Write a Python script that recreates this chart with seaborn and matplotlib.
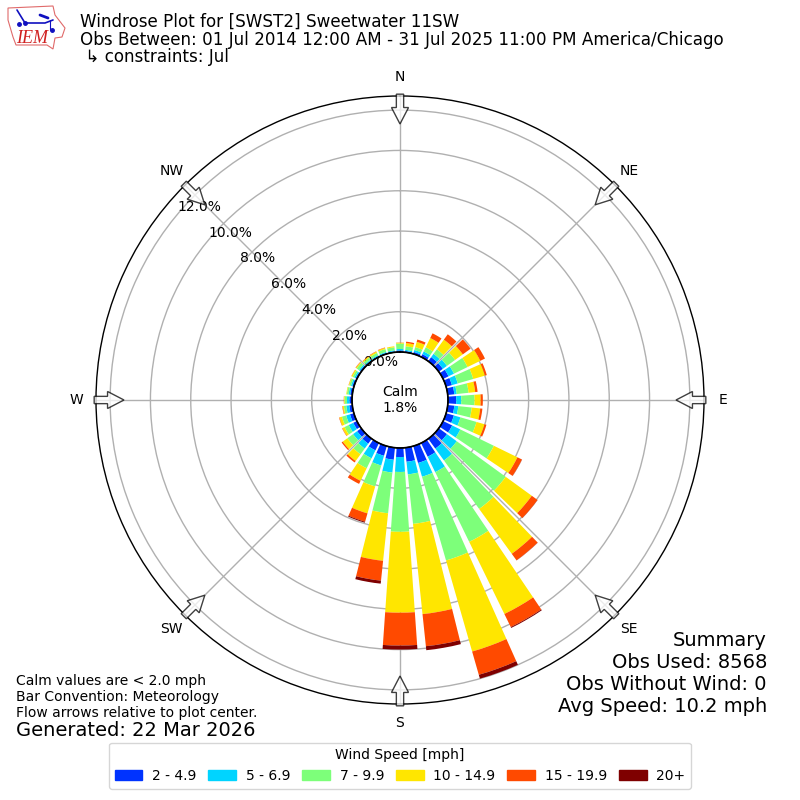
import numpy as np
import pandas as pd
import matplotlib
matplotlib.use("Agg")
import matplotlib.pyplot as plt
from matplotlib.patches import FancyArrow, Polygon
import seaborn as sns

# wind direction of each bar, degrees from north
directions = list(range(0, 360, 10))

# percent of observations per direction, one list per speed class
speed_2_5 = [.08, .06, .10, .15, .25, .25, .30, .30, .33, .41, .33, .40, .50, .50, .60, .75, .87, .70,
             .45, .60, .50, .40, .30, .25, .20, .20, .15, .13, .10, .08, .07, .07, .05, .05, .05, .05]
speed_5_7 = [.07, .06, .10, .15, .20, .25, .30, .30, .12, .25, .20, .34, .45, .60, .73, .85, .71, .63,
             .74, .64, .50, .44, .30, .25, .25, .20, .15, .12, .08, .07, .07, .07, .05, .05, .05, .05]
speed_7_10 = [.27, .18, .15, .23, .28, .50, .75, .80, .59, .66, .67, .83, 1.85, 3.00, 2.97, 3.85, 4.32, 2.47,
              2.97, 2.03, 1.08, .55, .35, .35, .23, .22, .12, .12, .09, .09, .10, .14, .12, .12, .15, .15]
speed_10_15 = [.04, .16, .27, .51, .59, .47, .70, .60, .33, .30, .42, .41, 1.30, 1.60, 2.75, 3.98, 4.70, 4.50,
               4.01, 2.37, 1.39, .69, .41, .28, .12, .13, .06, .03, .03, .03, .06, .05, .06, .07, .06, .05]
speed_15_20 = [.01, .07, .12, .26, .33, .48, .26, .10, .12, .11, .11, .10, .25, .35, .40, .72, 1.20, 1.60,
               1.63, .99, .43, .17, .09, .07, .02, .02, .02, .01, 0, .01, .01, .02, .02, .02, .02, 0]
speed_20 = [0, 0, 0, 0, 0, 0, 0, 0, 0, 0, 0, 0, .01, .01, .01, .05, .20, .20,
            .20, .15, .05, 0, 0, 0, 0, 0, 0, 0, 0, 0, 0, 0, 0, 0, 0, 0]

speed_labels = ["2 - 4.9", "5 - 6.9", "7 - 9.9", "10 - 14.9", "15 - 19.9", "20+"]
speed_colors = ["#0033ff", "#00d4ff", "#7dff7a", "#ffe600", "#ff4a00", "#7f0000"]
r_ticks = [0, 2, 4, 6, 8, 10, 12]

sns.set_style("white")
plt.rcParams["font.family"] = "DejaVu Sans"
plt.rcParams.update({"text.color": "black", "xtick.color": "black", "ytick.color": "black",
                     "axes.edgecolor": "black", "axes.labelcolor": "black"})

fig = plt.figure(figsize=(8, 8), dpi=100)
ax = fig.add_axes([0.12, 0.12, 0.76, 0.76], projection="polar")
ax.set_theta_zero_location("N")
ax.set_theta_direction(-1)

# stack the speed classes outwards
df = pd.DataFrame({"theta": np.radians(directions)})
bottom = np.zeros(len(directions))
all_speeds = [speed_2_5, speed_5_7, speed_7_10, speed_10_15, speed_15_20, speed_20]
for values, label, color in zip(all_speeds, speed_labels, speed_colors):
    df["pct"] = values
    sns.barplot(data=df, x="theta", y="pct", native_scale=True, width=0.8, bottom=bottom,
                color=color, saturation=1, linewidth=0, errorbar=None, label=label,
                legend=False, ax=ax, zorder=2)
    bottom = bottom + np.array(values)

ax.set_xlabel("")
ax.set_ylabel("")
ax.set_ylim(0, 12.7)
ax.set_rorigin(-2.38)
ax.set_xticks(np.radians(range(0, 360, 45)))
ax.set_xticklabels(["N", "NE", "E", "SE", "S", "SW", "W", "NW"], fontsize=10)
ax.tick_params(axis="x", pad=3.5)
ax.set_yticks(r_ticks)
ax.set_yticklabels(["%.1f%%" % t for t in r_ticks], fontsize=10, zorder=5)
ax.set_rlabel_position(-50)
ax.grid(True, color="#b0b0b0", linewidth=1, zorder=1)
ax.set_axisbelow(True)
ax.spines["polar"].set_linewidth(1)

# black ring around the calm hole
ring = np.radians(np.arange(0, 361))
ax.plot(ring, np.zeros(len(ring)), color="black", linewidth=1.2, zorder=3, clip_on=False)

ax.text(0.5, 0.5, "Calm\n1.8%", transform=ax.transAxes, ha="center", va="center", fontsize=10)

# flow arrows at the compass points
for deg in range(0, 360, 45):
    s, c = np.sin(np.radians(deg)), np.cos(np.radians(deg))
    ax.add_patch(FancyArrow(0.5 + 0.503 * s, 0.5 + 0.503 * c, -0.049 * s, -0.049 * c, width=0.012,
                            head_width=0.028, head_length=0.027, length_includes_head=True,
                            facecolor="white", edgecolor="black", linewidth=1, alpha=0.75,
                            transform=ax.transAxes, clip_on=False, zorder=6))

fig.text(80 / 800, 1 - 13 / 800,
         "Windrose Plot for [SWST2] Sweetwater 11SW\n"
         "Obs Between: 01 Jul 2014 12:00 AM - 31 Jul 2025 11:00 PM America/Chicago\n"
         " ↳ constraints: Jul",
         fontsize=12.02, va="top", linespacing=0.98)
fig.text(16 / 800, 1 - 720 / 800,
         "Calm values are < 2.0 mph\nBar Convention: Meteorology\nFlow arrows relative to plot center.",
         fontsize=10, va="bottom")
fig.text(16 / 800, 1 - 740 / 800, "Generated: 22 Mar 2026", fontsize=14, va="bottom")
fig.text(767 / 800, 1 - 716 / 800, "Summary\nObs Used: 8568\nObs Without Wind: 0\nAvg Speed: 10.2 mph",
         fontsize=14, ha="right", va="bottom", linespacing=1.19)

handles = [plt.Rectangle((0, 0), 1, 1, color=c) for c in speed_colors]
fig.legend(handles, speed_labels, title="Wind Speed [mph]", ncol=6, loc="lower center",
           bbox_to_anchor=(0.5, 0.0056), fontsize=10, title_fontsize=10, columnspacing=0.85,
           handletextpad=0.7)

# IEM logo in pixel coordinates
logo = fig.add_axes([0, 1 - 55 / 800, 75 / 800, 55 / 800])
logo.set_xlim(0, 75)
logo.set_ylim(55, 0)
logo.axis("off")
outline = [(8, 8), (53, 6), (55, 15), (65, 28), (62, 37), (55, 38), (53, 49), (47, 45), (16, 45), (13, 37),
           (8, 20)]
logo.add_patch(Polygon(outline, closed=True, facecolor="white", edgecolor="#e06a6a", linewidth=0.8))
logo.plot([17, 25, 45, 53], [10, 23, 23, 20], color="#1010c0", linewidth=1.2)
logo.plot([40, 48], [15, 18], color="#1010c0", linewidth=2)
logo.plot([50, 50], [20, 30], color="#1010c0", linewidth=0.8)
logo.plot([25, 19, 52], [23, 24, 30], "o", color="#1010c0", markersize=2.5)
logo.text(16, 43, "IEM", color="#d02020", fontsize=13, family="Liberation Serif", style="italic")

fig.savefig("out.png", dpi=100)
